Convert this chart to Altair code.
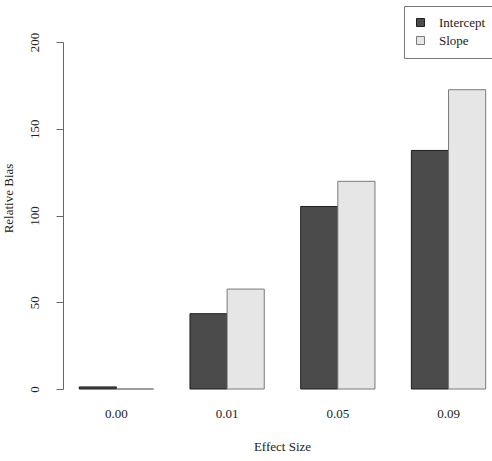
import altair as alt
import pandas as pd

# Effect sizes on the x axis and relative bias of each parameter
effect_sizes = ["0.00", "0.01", "0.05", "0.09"]
intercept_bias = [1.2, 43.4, 105.2, 137.5]
slope_bias = [0.0, 57.6, 119.7, 172.5]
series_names = ["Intercept", "Slope"]
y_ticks = [0, 50, 100, 150, 200]

rows = []
for e, a, b in zip(effect_sizes, intercept_bias, slope_bias):
    rows.append({"effect": e, "series": "Intercept", "bias": a})
    rows.append({"effect": e, "series": "Slope", "bias": b})
df = pd.DataFrame(rows)

FONT = "Liberation Serif"
TEXT = "#222222"
AXIS = "#666666"

bars = alt.Chart(df).mark_bar(strokeWidth=1, opacity=1).encode(
    x=alt.X(
        "effect:N",
        sort=effect_sizes,
        scale=alt.Scale(paddingInner=0.329, paddingOuter=0.102, align=0.72),
        axis=alt.Axis(
            title="Effect Size",
            domain=False,
            ticks=False,
            tickSize=0,
            labelAngle=0,
            labelFont=FONT,
            labelFontSize=13,
            labelColor=TEXT,
            labelPadding=18,
            labelBaseline="top",
            titleFont=FONT,
            titleFontSize=13,
            titleFontWeight="normal",
            titleColor=TEXT,
            titleX=219,
            titleY=57,
            titleAlign="center",
            titleBaseline="middle",
        ),
    ),
    xOffset=alt.XOffset("series:N", sort=series_names),
    y=alt.Y(
        "bias:Q",
        scale=alt.Scale(domain=[0, 200], nice=False, zero=True),
        axis=alt.Axis(
            title="Relative Bias",
            values=y_ticks,
            grid=False,
            domainColor=AXIS,
            tickColor=AXIS,
            tickSize=7,
            labelAngle=-90,
            labelAlign="center",
            labelBaseline="bottom",
            labelPadding=15,
            labelFont=FONT,
            labelFontSize=13,
            labelColor=TEXT,
            titleFont=FONT,
            titleFontSize=13,
            titleFontWeight="normal",
            titleColor=TEXT,
            titleAngle=-90,
            titleX=-55,
            titleY=156,
            titleAlign="center",
            titleBaseline="middle",
        ),
    ),
    color=alt.Color(
        "series:N",
        sort=series_names,
        scale=alt.Scale(domain=series_names, range=["#4b4b4b", "#e6e6e6"]),
        legend=alt.Legend(
            title=None,
            orient="none",
            legendX=341,
            legendY=-36,
            padding=10,
            strokeColor="#777777",
            fillColor="white",
            symbolType="square",
            symbolSize=64,
            symbolStrokeColor="#333333",
            symbolStrokeWidth=1,
            symbolOpacity=1,
            labelFont=FONT,
            labelFontSize=13,
            labelColor=TEXT,
            labelOffset=12,
            rowPadding=4,
            offset=0,
        ),
    ),
    stroke=alt.Stroke(
        "series:N",
        sort=series_names,
        scale=alt.Scale(domain=series_names, range=["#1e1e1e", "#7a7a7a"]),
        legend=None,
    ),
)

chart = bars.properties(
    width=429,
    height=347,
    autosize=alt.AutoSizeParams(type="none"),
    padding={"left": 63, "top": 42, "right": 0, "bottom": 72},
    background="white",
).configure_view(stroke=None)

chart.save("out.html", embed_options={"renderer": "svg", "actions": False})
